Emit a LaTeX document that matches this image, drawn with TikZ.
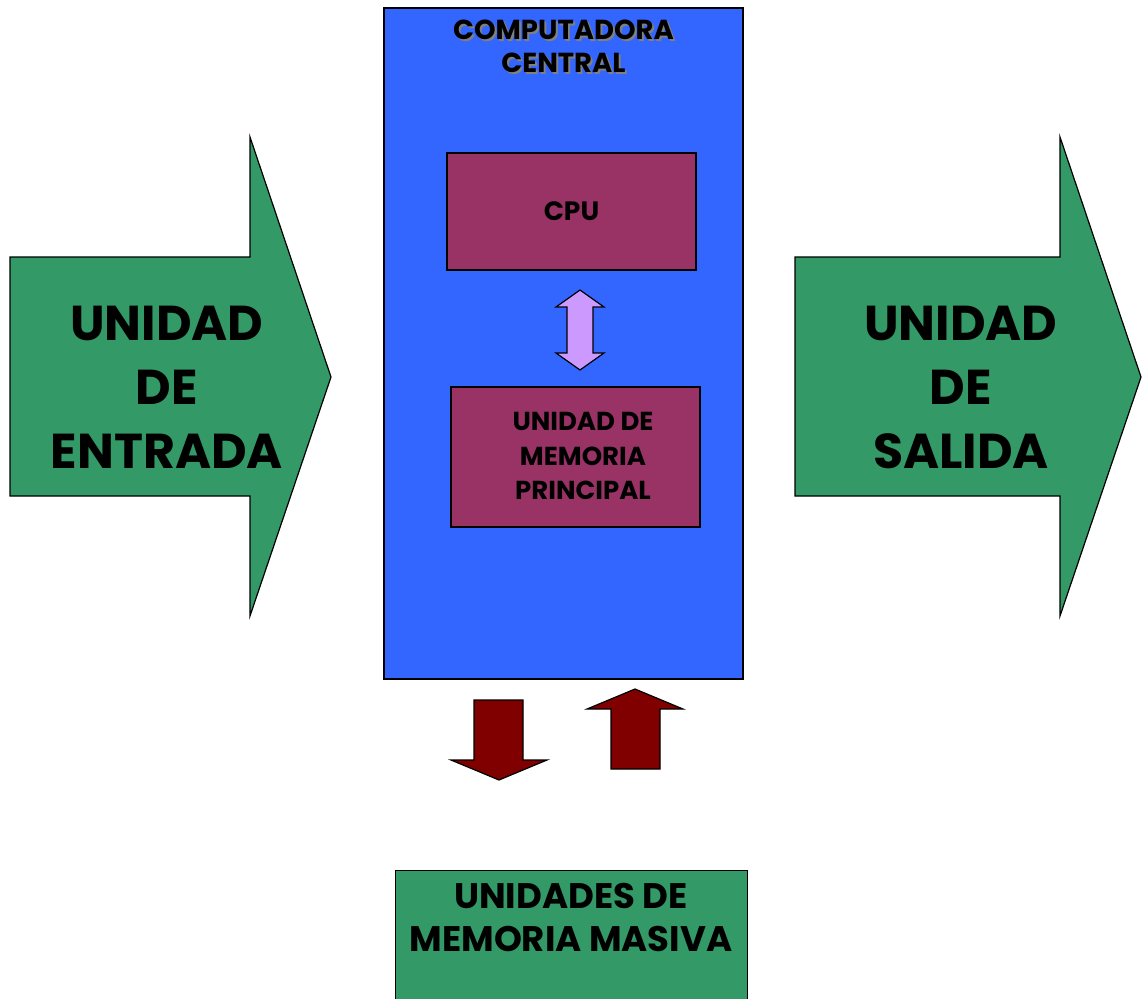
\documentclass[tikz,border=0pt]{standalone}
\usepackage{fontspec}
\setmainfont{Poppins}
\definecolor{cgreen}{HTML}{339966}
\definecolor{cblue}{HTML}{3366FF}
\definecolor{cmaroon}{HTML}{993366}
\definecolor{clav}{HTML}{CC99FF}
\definecolor{cdred}{HTML}{800000}
\begin{document}
\begin{tikzpicture}[x=1pt,y=-1pt,
  shp/.style={draw=black,line width=1.2pt,line join=miter},
  lbl/.style={align=center,font=\bfseries,inner sep=0pt},
]
\useasboundingbox (0,0) rectangle (1142,998);
% left input arrow
\draw[shp,fill=cgreen] (10,257) -- (250,257) -- (250,137) -- (331,377) -- (250,616) -- (250,496) -- (10,496) -- cycle;
\node[lbl,font=\fontsize{49}{64}\selectfont\bfseries] (entrada) at (167,387) {UNIDAD\\DE\\ENTRADA};
% right output arrow
\draw[shp,fill=cgreen] (795,257) -- (1060,257) -- (1060,137) -- (1141,377) -- (1060,616) -- (1060,496) -- (795,496) -- cycle;
\node[lbl,font=\fontsize{49}{64}\selectfont\bfseries] (salida) at (961,387) {UNIDAD\\DE\\SALIDA};
% central computer
\node[shp,fill=cblue,minimum width=359pt,minimum height=671pt,inner sep=0pt] (central) at (563.5,343.5) {};
\node[lbl,text=gray,font=\fontsize{27.5}{33}\selectfont\bfseries] (titleshadow) at (565.5,48.5) {COMPUTADORA\\CENTRAL};
\node[lbl,font=\fontsize{27.5}{33}\selectfont\bfseries] (title) at (563.5,46.5) {COMPUTADORA\\CENTRAL};
% CPU
\node[shp,fill=cmaroon,minimum width=249pt,minimum height=117pt,inner sep=0pt,font=\fontsize{26.5}{30}\selectfont\bfseries] (cpu) at (571.5,211.5) {CPU};
% memory
\node[shp,fill=cmaroon,minimum width=249pt,minimum height=140pt,inner sep=0pt] (mem) at (575.5,457) {};
\node[lbl,font=\fontsize{26}{34.5}\selectfont\bfseries] (memtxt) at (583,456) {UNIDAD DE\\MEMORIA\\PRINCIPAL};
% double arrow cpu <-> memory
\draw[shp,fill=clav] (580,290) -- (604,307) -- (593,307) -- (593,353) -- (604,353) -- (580,370) -- (556,353) -- (567,353) -- (567,307) -- (556,307) -- cycle;
% down arrow
\draw[shp,fill=cdred] (474,700) -- (523,700) -- (523,760) -- (547,760) -- (499,780) -- (451,760) -- (474,760) -- cycle;
% up arrow
\draw[shp,fill=cdred] (611,769) -- (660,769) -- (660,709) -- (683,709) -- (635,689) -- (587,709) -- (611,709) -- cycle;
% mass storage
\node[shp,fill=cgreen,minimum width=352pt,minimum height=150pt,inner sep=0pt,anchor=north west] (masiva) at (395,870) {};
\node[lbl,font=\fontsize{35.5}{43}\selectfont\bfseries] (masivatxt) at (571,917) {UNIDADES DE\\MEMORIA MASIVA};
\end{tikzpicture}
\end{document}
